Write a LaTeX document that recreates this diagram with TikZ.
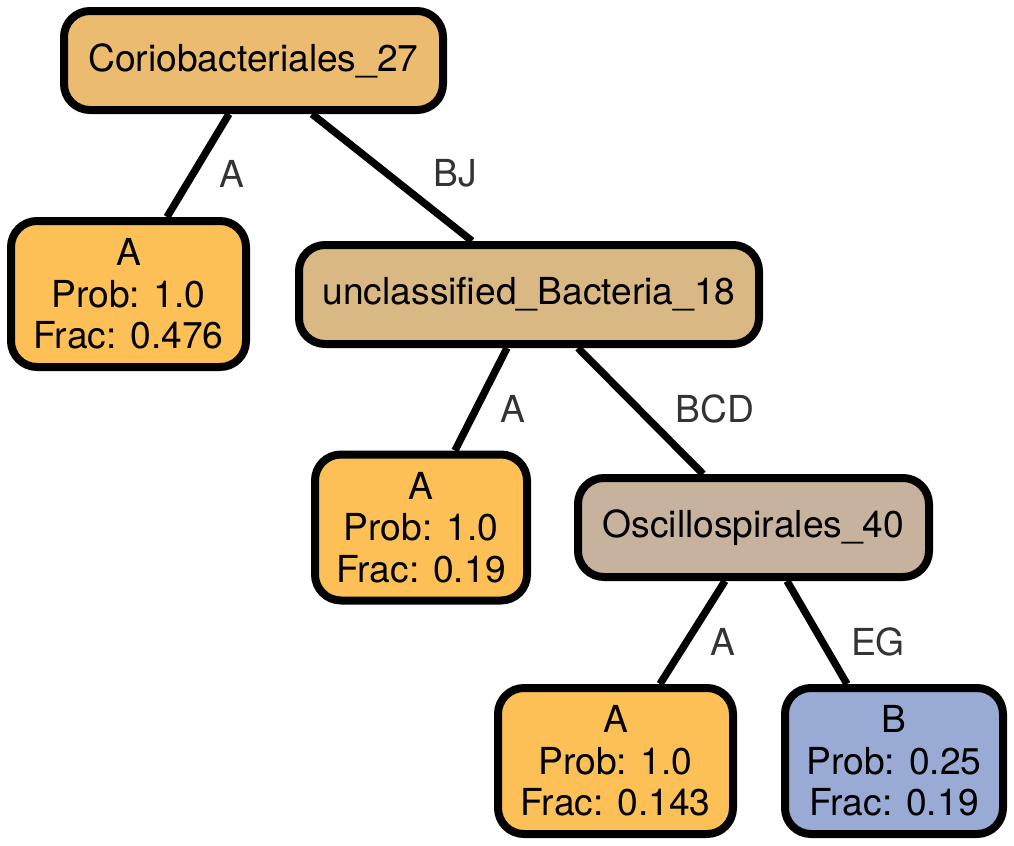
\documentclass[tikz,border=0pt]{standalone}
\usepackage{fontspec}
\setmainfont{TeX Gyre Heros}
\usepackage{tikz}
\usetikzlibrary{positioning}

\definecolor{coriofill}{HTML}{EBBC6F}
\definecolor{bactfill}{HTML}{DAB883}
\definecolor{oscfill}{HTML}{C6B29D}
\definecolor{leafA}{HTML}{FDC057}
\definecolor{leafB}{HTML}{99AAD4}

\begin{document}
\begin{tikzpicture}[x=0.5pt, y=-0.5pt, line width=3.7pt,
    box/.style={draw, line width=4pt, rounded corners=13pt, align=center,
        inner sep=0pt, font=\fontsize{18.6}{20.7}\selectfont},
    taxon/.style={box, minimum height=49.5pt},
    leaf/.style={box, minimum height=73pt},
    elabel/.style={anchor=west, inner sep=0pt, text=black!80,
        font=\fontsize{18.6}{20.7}\selectfont}]
    \useasboundingbox (0,0) rectangle (1014,846);

    % Inner nodes
    \node[taxon, fill=coriofill, minimum width=189.5pt] (corio) at (253.5,60.5) {Coriobacteriales\_27};
    \node[taxon, fill=bactfill, minimum width=230pt] (bact) at (529,294.5) {unclassified\_Bacteria\_18};
    \node[taxon, fill=oscfill, minimum width=175.5pt] (osc) at (753.5,527.5) {Oscillospirales\_40};

    % Leaves
    \node[leaf, fill=leafA, minimum width=117.5pt] (leafa) at (128.5,294) {A\\Prob: 1.0\\Frac: 0.476};
    \node[leaf, fill=leafA, minimum width=106pt] (leafb) at (421,527.5) {A\\Prob: 1.0\\Frac: 0.19};
    \node[leaf, fill=leafA, minimum width=117.5pt] (leafc) at (615.5,761) {A\\Prob: 1.0\\Frac: 0.143};
    \node[leaf, fill=leafB, minimum width=109pt] (leafd) at (894,761) {B\\Prob: 0.25\\Frac: 0.19};

    % Edges with labels
    \draw ([xshift=-12.25pt]corio.south) -- node[elabel, pos=0.58, xshift=11.3pt] (ea1) {A} ([xshift=19.25pt]leafa.north);
    \draw ([xshift=29.25pt]corio.south) -- node[elabel, pos=0.47, xshift=21.5pt] (ebj) {BJ} ([xshift=-28.5pt]bact.north);
    \draw ([xshift=-11pt]bact.south) -- node[elabel, pos=0.59, xshift=10pt] (ea2) {A} ([xshift=17pt]leafb.north);
    \draw ([xshift=24.5pt]bact.south) -- node[elabel, pos=0.48, xshift=16.9pt] (ebcd) {BCD} ([xshift=-25.25pt]osc.north);
    \draw ([xshift=-14.25pt]osc.south) -- node[elabel, pos=0.59, xshift=10pt] (ea3) {A} ([xshift=22.25pt]leafc.north);
    \draw ([xshift=16.75pt]osc.south) -- node[elabel, pos=0.59, xshift=12.5pt] (eeg) {EG} ([xshift=-23.5pt]leafd.north);
\end{tikzpicture}
\end{document}
